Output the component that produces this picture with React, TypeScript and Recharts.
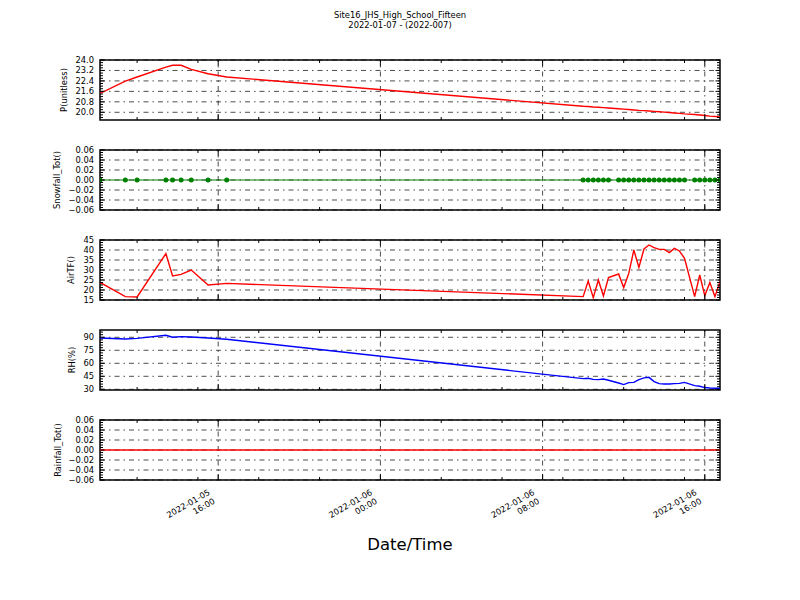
import React from "react";
import { LineChart, Line, XAxis, YAxis, ReferenceLine, ReferenceArea } from "recharts";

const FONT = "'DejaVu Sans', 'Liberation Sans', sans-serif";
const SMALL = 8.33;

// hours after 2022-01-05 00:00
const TIMES = [
  10.17, 11.42, 12.0, 13.42, 13.75, 14.17, 14.67, 15.5, 16.42,
  34.0, 34.25, 34.5, 34.75, 35.0, 35.25,
  35.75, 36.0, 36.25, 36.5, 36.75, 37.0, 37.25, 37.5, 37.75, 38.0, 38.25, 38.5, 38.75, 39.0,
  39.5, 39.75, 40.0, 40.25, 40.5, 40.75,
];
const PRESSURE = [
  21.44, 22.38, 22.7, 23.46, 23.6, 23.6, 23.28, 22.95, 22.7,
  20.46, 20.44, 20.41, 20.39, 20.36, 20.33,
  20.27, 20.24, 20.21, 20.18, 20.15, 20.13, 20.1, 20.07, 20.04, 20.01, 19.98, 19.95, 19.92, 19.88,
  19.83, 19.79, 19.75, 19.71, 19.68, 19.65,
];
const SNOWFALL = [
  0, 0, 0, 0, 0, 0, 0, 0, 0,
  0, 0, 0, 0, 0, 0,
  0, 0, 0, 0, 0, 0, 0, 0, 0, 0, 0, 0, 0, 0,
  0, 0, 0, 0, 0, 0,
];
const AIR_T = [
  23.8, 16.7, 16.5, 38.2, 27, 27.8, 30, 22.5, 23.3,
  16.7, 24.5, 16.2, 25, 17, 26.2,
  28, 21.2, 28.3, 40, 31.3, 40.5, 42.5, 41.2, 40.3, 40.3, 38.7, 40.8, 39.5, 35.8,
  16.7, 27.5, 17.2, 23.7, 16.7, 24.2,
];
const RH = [
  89.2, 88, 88.8, 92.3, 90, 90.8, 90.4, 89.2, 87.7,
  42.3, 42.7, 41.5, 41.2, 41.9, 40.4,
  37.3, 35.4, 37.7, 38, 41.2, 43.2, 43.8, 38.9, 36.5, 36.1, 36.1, 36.5, 36.9, 38,
  34.2, 33.5, 32, 31.5, 31.2, 31.2,
];
const RAINFALL = [
  0, 0, 0, 0, 0, 0, 0, 0, 0,
  0, 0, 0, 0, 0, 0,
  0, 0, 0, 0, 0, 0, 0, 0, 0, 0, 0, 0, 0, 0,
  0, 0, 0, 0, 0, 0,
];

const X_MAJOR = [16, 24, 32, 40];
const X_MINOR = [12, 15, 18, 21, 27, 30, 33, 36, 39];
const X_DATES = ["2022-01-05", "2022-01-06", "2022-01-06", "2022-01-06"];
const X_CLOCK = ["16:00", "00:00", "08:00", "16:00"];

const P_TICKS = [20.0, 20.8, 21.6, 22.4, 23.2, 24.0];
const PRECIP_TICKS = [-0.06, -0.04, -0.02, 0, 0.02, 0.04, 0.06];
const AIR_TICKS = [15, 20, 25, 30, 35, 40, 45];
const RH_TICKS = [30, 45, 60, 75, 90];

const X_MIN = 10.17;
const X_MAX = 40.75;
const PAD = 10;
const PLOT_RIGHT = 720;
const GRID_DASH = "5 4 1.5 4";

const rows = TIMES.map((t, i) => ({
  t,
  p: PRESSURE[i],
  snow: SNOWFALL[i],
  air: AIR_T[i],
  rh: RH[i],
  rain: RAINFALL[i],
}));

const X_TICKS = [...X_MAJOR, ...X_MINOR].sort((a, b) => a - b);

function minorTicks(lo: number, hi: number, step: number) {
  const out: number[] = [];
  for (let v = Math.ceil(lo / step) * step; v <= hi + 1e-9; v += step) out.push(+v.toFixed(4));
  return out;
}

const minus = (s: string) => s.replace("-", "\u2212");

function Panel({ top, dataKey, color, domain, major, step, fmt, dots, dates }: any) {
  const h = dates ? 130 : 80;
  const ticks = Array.from(new Set([...major, ...minorTicks(domain[0], domain[1], step)])).sort(
    (a: any, b: any) => a - b,
  );
  const isMajorY = (v: number) => major.some((m: number) => Math.abs(m - v) < 1e-6);

  const yTick = (props: any) => {
    const { x, y, payload } = props;
    const big = isMajorY(payload.value);
    const len = big ? 4.5 : 3;
    return (
      <g>
        <line x1={x} x2={x + len} y1={y} y2={y} stroke="#000" strokeWidth={1} />
        <line x1={PLOT_RIGHT} x2={PLOT_RIGHT - len} y1={y} y2={y} stroke="#000" strokeWidth={1} />
        {big && (
          <text x={x - 6} y={y} dy="0.35em" textAnchor="end" fontSize={SMALL} fontFamily={FONT} fill="#000">
            {fmt(payload.value)}
          </text>
        )}
      </g>
    );
  };

  const xTick = (props: any) => {
    const { x, y, payload } = props;
    const idx = X_MAJOR.indexOf(payload.value);
    const len = idx >= 0 ? 6 : 3;
    return (
      <g>
        <line x1={x} x2={x} y1={y} y2={y - len} stroke="#000" strokeWidth={1} />
        <line x1={x} x2={x} y1={PAD} y2={PAD + len} stroke="#000" strokeWidth={1} />
        {dates && idx >= 0 && (
          <text
            transform={`translate(${x - 11},${y + 8}) rotate(-30)`}
            textAnchor="end"
            fontSize={SMALL}
            fontFamily={FONT}
            fill="#000"
          >
            <tspan x={0} y={7}>{X_DATES[idx]}</tspan>
            <tspan x={0} y={17}>{X_CLOCK[idx]}</tspan>
          </text>
        )}
      </g>
    );
  };

  return (
    <div style={{ position: "absolute", left: 0, top: top - PAD, width: 800, height: h }}>
      <LineChart
        width={800}
        height={h}
        data={rows}
        margin={{ top: PAD, right: 80, bottom: h - PAD - 61, left: 40 }}
      >
        <XAxis
          dataKey="t"
          type="number"
          domain={[X_MIN, X_MAX]}
          ticks={X_TICKS}
          interval={0}
          height={1}
          tickSize={0}
          tickMargin={0}
          axisLine={false}
          tickLine={false}
          tick={xTick}
          allowDataOverflow
        />
        <YAxis
          type="number"
          domain={domain}
          ticks={ticks}
          interval={0}
          width={60}
          tickSize={0}
          tickMargin={0}
          axisLine={false}
          tickLine={false}
          tick={yTick}
          allowDataOverflow
        />
        {major.map((v: number) => (
          <ReferenceLine key={"h" + v} y={v} stroke="#000" strokeWidth={0.7} strokeDasharray={GRID_DASH} />
        ))}
        {X_MAJOR.map((v) => (
          <ReferenceLine key={"v" + v} x={v} stroke="#000" strokeWidth={0.7} strokeDasharray={GRID_DASH} />
        ))}
        <Line
          type="linear"
          dataKey={dataKey}
          stroke={color}
          strokeWidth={dots ? 1 : 1.4}
          dot={dots ? { r: 2.5, fill: color, stroke: color, strokeWidth: 0 } : false}
          activeDot={false}
          isAnimationActive={false}
        />
        <ReferenceArea
          x1={X_MIN}
          x2={X_MAX}
          y1={domain[0]}
          y2={domain[1]}
          fill="none"
          fillOpacity={0}
          stroke="#000"
          strokeWidth={1.5}
          ifOverflow="visible"
        />
      </LineChart>
    </div>
  );
}

const Y_LABELS = [
  { text: "P(unitless)", x: 64, mid: 90 },
  { text: "Snowfall_Tot()", x: 57, mid: 180 },
  { text: "AirTF()", x: 71, mid: 270 },
  { text: "RH(%)", x: 72, mid: 360 },
  { text: "Rainfall_Tot()", x: 58, mid: 450 },
];

export default function App() {
  return (
    <div style={{ position: "absolute", left: 0, top: 0, width: 800, height: 600, background: "#fff" }}>
      <Panel top={60} dataKey="p" color="#ff0000" domain={[19.41, 24.0]} major={P_TICKS} step={0.2}
        fmt={(v: number) => v.toFixed(1)} />
      <Panel top={150} dataKey="snow" color="#008000" domain={[-0.06, 0.06]} major={PRECIP_TICKS} step={0.005}
        fmt={(v: number) => minus(v.toFixed(2))} dots />
      <Panel top={240} dataKey="air" color="#ff0000" domain={[15, 45]} major={AIR_TICKS} step={1.25}
        fmt={(v: number) => String(v)} />
      <Panel top={330} dataKey="rh" color="#0000ff" domain={[29.2, 98.4]} major={RH_TICKS} step={3}
        fmt={(v: number) => String(v)} />
      <Panel top={420} dataKey="rain" color="#ff0000" domain={[-0.06, 0.06]} major={PRECIP_TICKS} step={0.005}
        fmt={(v: number) => minus(v.toFixed(2))} dates />
      <svg width={800} height={600} style={{ position: "absolute", left: 0, top: 0, pointerEvents: "none" }}>
        <text x={400} y={18} textAnchor="middle" fontSize={SMALL} fontFamily={FONT}>
          Site16_JHS_High_School_Fifteen
        </text>
        <text x={400} y={28} textAnchor="middle" fontSize={SMALL} fontFamily={FONT}>
          2022-01-07 - (2022-007)
        </text>
        {Y_LABELS.map((l) => (
          <text
            key={l.text}
            x={l.x}
            y={l.mid}
            transform={`rotate(-90, ${l.x}, ${l.mid})`}
            textAnchor="middle"
            dominantBaseline="central"
            fontSize={SMALL}
            fontFamily={FONT}
          >
            {l.text}
          </text>
        ))}
        <text x={410} y={550} textAnchor="middle" fontSize={16.5} fontFamily={FONT}>
          Date/Time
        </text>
      </svg>
    </div>
  );
}
